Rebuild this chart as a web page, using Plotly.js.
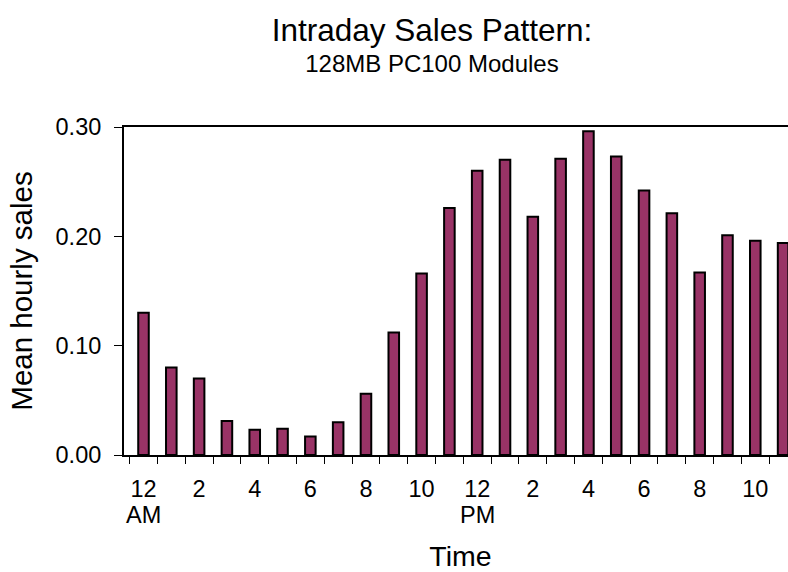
<!DOCTYPE html>
<html>
<head>
<meta charset="utf-8">
<script src="https://cdn.plot.ly/plotly-3.0.1.min.js"></script>
<style>
html, body { margin: 0; padding: 0; overflow: hidden; background: #fff; }
#chart { width: 797px; height: 572px; }
</style>
</head>
<body>
<div id="chart"></div>
<script>
// Hour of day (0 = 12 AM ... 23 = 11 PM)
const hours = ['0','1','2','3','4','5','6','7','8','9','10','11','12','13','14','15','16','17','18','19','20','21','22','23'];
// Mean hourly sales
const sales = [0.130, 0.080, 0.070, 0.031, 0.023, 0.024, 0.017, 0.030, 0.056, 0.112, 0.166, 0.226,
               0.260, 0.270, 0.218, 0.271, 0.296, 0.273, 0.242, 0.221, 0.167, 0.201, 0.196, 0.194];
// Tick labels shown under every other hour
const tickLabels = ['12','','2','','4','','6','','8','','10','','12','','2','','4','','6','','8','','10',''];
// Meridiem markers under the 12 o'clock labels
const meridiemHours = ['0','12'];
const meridiemText = ['AM','PM'];
const yTicks = [0, 0.10, 0.20, 0.30];

const FONT = 'Liberation Sans, Arial, Helvetica, sans-serif';

const trace = {
  type: 'bar',
  x: hours,
  y: sales,
  marker: { color: '#993366', line: { color: '#000000', width: 2 } },
  hoverinfo: 'none'
};

const annotations = meridiemHours.map((h, i) => ({
  x: h, xref: 'x', y: -0.182, yref: 'paper',
  text: meridiemText[i], showarrow: false,
  xanchor: 'center', yanchor: 'middle',
  font: { family: FONT, size: 23.5, color: '#000' }
}));

const layout = {
  width: 797, height: 572,
  margin: { l: 124, r: 0, t: 127, b: 117 },
  paper_bgcolor: '#ffffff', plot_bgcolor: '#ffffff',
  font: { family: FONT, color: '#000' },
  showlegend: false,
  bargap: 0.62,
  title: {
    text: '<span style="font-size:31.5px">Intraday Sales Pattern:</span><br>128MB PC100 Modules',
    font: { family: FONT, size: 24, color: '#000' },
    xref: 'container', x: 0.542, xanchor: 'center',
    yref: 'container', y: 0.929, yanchor: 'top'
  },
  xaxis: {
    type: 'category',
    tickmode: 'array', tickvals: hours, ticktext: tickLabels,
    tickson: 'boundaries', tickangle: 0,
    ticks: 'outside', ticklen: 7, tickwidth: 1, tickcolor: '#000',
    ticklabelstandoff: 12,
    showline: true, linewidth: 2, linecolor: '#000', mirror: true,
    showgrid: false, zeroline: false,
    tickfont: { family: FONT, size: 23.5, color: '#000' },
    title: { text: 'Time', font: { family: FONT, size: 28.5, color: '#000' }, standoff: 50 },
    automargin: false
  },
  yaxis: {
    range: [0, 0.30],
    tickmode: 'array', tickvals: yTicks, tickformat: '.2f',
    ticks: 'outside', ticklen: 8, tickwidth: 1, tickcolor: '#000',
    ticklabelstandoff: 8,
    showline: true, linewidth: 2, linecolor: '#000',
    showgrid: false, zeroline: false,
    tickfont: { family: FONT, size: 23.5, color: '#000' },
    title: { text: 'Mean hourly sales', font: { family: FONT, size: 29.5, color: '#000' }, standoff: 14 },
    automargin: false
  },
  annotations: annotations
};

Plotly.newPlot('chart', [trace], layout, { staticPlot: true, displayModeBar: false });
</script>
</body>
</html>
